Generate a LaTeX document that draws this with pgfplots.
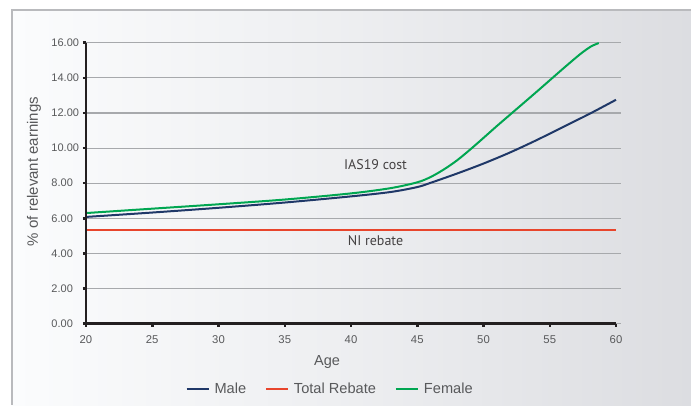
\documentclass[border=0pt]{standalone}
\usepackage{pgfplots}
\pgfplotsset{compat=1.18}
\usepackage{fontspec}
\setmainfont{Liberation Sans}
\newfontfamily\myriad{PT Sans}
\definecolor{male}{HTML}{1F3868}
\definecolor{rebate}{HTML}{E8452C}
\definecolor{female}{HTML}{00A651}
\definecolor{gridc}{HTML}{A7A9AC}
\definecolor{txt}{HTML}{58595B}
\definecolor{bgleft}{HTML}{FBFCFD}
\definecolor{bgright}{HTML}{DCDDE1}
\definecolor{axc}{HTML}{231F20}
\begin{document}
\begin{tikzpicture}[x=1pt,y=1pt]
\useasboundingbox (0,0) rectangle (691,-405);
\fill[white] (0,0) rectangle (691,-405);
\shade[left color=bgleft, right color=bgright, middle color=bgleft!55!bgright] (12,-10) rectangle (691,-405);
\draw[gridc!80, line width=1.2pt] (12,-405) -- (12,-10) -- (691,-10);
\begin{axis}[
  at={(86pt,-323.7pt)}, anchor=south west,
  scale only axis, width=535.3pt, height=281pt,
  xmin=20, xmax=60.4, ymin=0, ymax=16,
  clip=false,
  axis x line*=bottom, axis y line*=left,
  axis line style={draw=none},
  xtick={20,25,...,60}, ytick={0,2,...,16},
  ymajorgrids, grid style={gridc, line width=1.1pt},
  tick align=outside, major tick length=3pt,
  tick style={axc, line width=2.5pt},
  /pgf/number format/assume math mode=true,
  yticklabel style={/pgf/number format/fixed, /pgf/number format/fixed zerofill, /pgf/number format/precision=2},
  yticklabel style={text width=28pt, align=left, font=\fontsize{11}{13}\selectfont, text=txt},
  xticklabel style={font=\fontsize{11.3}{13}\selectfont, text=txt, yshift=-5pt},
  legend style={at={(0.456,-0.2324)}, anchor=center, draw=none, fill=none,
    font=\fontsize{14.6}{16}\selectfont, text=txt, legend columns=3,
    /tikz/every odd column/.append style={column sep=3pt},
    /tikz/every even column/.append style={column sep=17pt}},
  legend image code/.code={\draw[#1] (0pt,0pt) -- (22pt,0pt);},
  legend cell align=left,
]
\addplot[male, line width=2pt, smooth, tension=0.5] coordinates {
(20,6.08) (25,6.33) (30,6.6) (35,6.9) (40,7.25) (43,7.5) (45,7.78) (46,8.02) (48,8.55) (50,9.12) (52,9.75) (54,10.45) (56,11.2) (58,11.95) (60,12.75)};
\addlegendentry{Male}
\addplot[rebate, line width=1.8pt] coordinates {(20,5.35) (60,5.35)};
\addlegendentry{Total Rebate}
\addplot[female, line width=2pt, smooth, tension=0.5] coordinates {
(20,6.3) (25,6.55) (30,6.8) (35,7.07) (40,7.42) (43,7.72) (45,8.05) (46,8.35) (47,8.78) (48,9.3) (49,9.92) (50,10.58) (51,11.25) (52,11.9) (54,13.2) (56,14.52) (57.3,15.35) (58.1,15.78) (58.7,15.98)};
\addlegendentry{Female}
\draw[axc, line width=2.5pt] (axis cs:20,16) -- (axis cs:20,0) -- (axis cs:60,0);
\node[font=\myriad\fontsize{14}{16}\selectfont, text=axc!85] at (axis cs:41.85,9.04) {IAS19 cost};
\node[font=\myriad\fontsize{14}{16}\selectfont, text=axc!85] at (axis cs:41.85,4.71) {NI rebate};
\end{axis}
\node[text=txt, font=\fontsize{14.5}{16}\selectfont] at (327,-362) {Age};
\node[rotate=90, text=txt, font=\fontsize{15}{17}\selectfont] at (34,-171.5) {\% of relevant earnings};
\end{tikzpicture}
\end{document}
